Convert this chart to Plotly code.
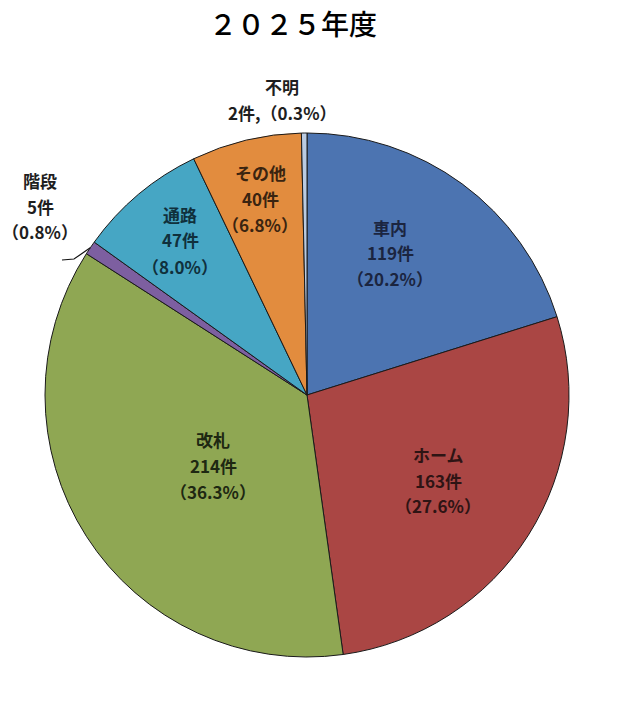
import math
import plotly.graph_objects as go

# ---- data ----
categories = ["車内", "ホーム", "改札", "階段", "通路", "その他", "不明"]
counts = [119, 163, 214, 5, 47, 40, 2]
percents = ["20.2", "27.6", "36.3", "0.8", "8.0", "6.8", "0.3"]
colors = ["#4C74B1", "#AA4644", "#8FA753", "#7D5FA0", "#46A6C4", "#E28C3E", "#BACBE2"]
text_colors = ["#1B2540", "#2E1414", "#1E2812", "#1E1E1E", "#10303C", "#3A2410", "#1E1E1E"]
title_text = "２０２５年度"

W, H = 620, 720
# pie geometry (pixels)
CX, CY, R = 307, 395, 262

fig = go.Figure()
fig.add_trace(go.Pie(
    labels=categories,
    values=counts,
    sort=False,
    direction="clockwise",
    rotation=0,
    marker=dict(colors=colors, line=dict(color="#1A1A1A", width=1)),
    textinfo="none",
    hoverinfo="label+value+percent",
    showlegend=False,
    domain=dict(x=[(CX - R) / W, (CX + R) / W], y=[(H - CY - R) / H, (H - CY + R) / H]),
))

FONT = "Noto Sans CJK JP, Noto Sans, sans-serif"
LINE = 26

# label block centers (pixels) per category
label_pos = {
    "車内": (390, 253),
    "ホーム": (438, 480),
    "改札": (213, 465),
    "階段": (40, 206),
    "通路": (180, 240),
    "その他": (260, 198),
    "不明": (282, 99),
}

annotations = []
for cat, n, p, tc in zip(categories, counts, percents, text_colors):
    if cat == "不明":
        lines = [cat, f"{n}件,（{p}%）"]
    else:
        lines = [cat, f"{n}件", f"（{p}%）"]
    cx, cy = label_pos[cat]
    start = cy - LINE * (len(lines) - 1) / 2
    for i, ln in enumerate(lines):
        y = start + i * LINE
        annotations.append(dict(
            text=f"<b>{ln}</b>", x=cx / W, y=1 - y / H, xref="paper", yref="paper",
            xanchor="center", yanchor="middle", showarrow=False,
            font=dict(family=FONT, size=17, color=tc),
        ))

annotations.append(dict(
    text=title_text, x=293 / W, y=1 - 23 / H, xref="paper", yref="paper",
    xanchor="center", yanchor="middle", showarrow=False,
    font=dict(family="Noto Sans CJK JP, serif", size=28, color="#000000", weight=500),
))

# leader line for 階段: to the middle of its slice on the rim
total = sum(counts)
idx = categories.index("階段")
frac_mid = (sum(counts[:idx]) + counts[idx] / 2) / total
ang = 2 * math.pi * frac_mid
px = CX + R * math.sin(ang)
py = CY - R * math.cos(ang)
pts = [(62, 260), (74, 259), (px, py)]
path = "M " + " L ".join(f"{x / W},{1 - y / H}" for x, y in pts)
shapes = [dict(type="path", path=path, xref="paper", yref="paper",
               line=dict(color="#111111", width=1.2))]

fig.update_layout(
    width=W, height=H,
    margin=dict(l=0, r=0, t=0, b=0),
    paper_bgcolor="white", plot_bgcolor="white",
    annotations=annotations,
    shapes=shapes,
)

fig.write_html("out.html")
